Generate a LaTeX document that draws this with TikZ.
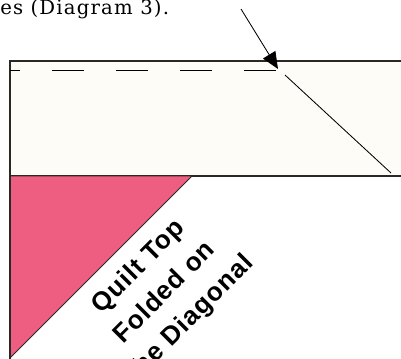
\documentclass[tikz,border=0pt]{standalone}
\usepackage{fontspec}
\setmainfont{DejaVu Serif}
\newfontfamily\labelfont{Liberation Sans}
\usepackage{tikz}
\usetikzlibrary{arrows.meta}
\definecolor{quiltpink}{RGB}{238, 94, 128}
\definecolor{quiltback}{RGB}{253, 252, 247}
\definecolor{seamline}{RGB}{45, 38, 38}

\begin{document}
\begin{tikzpicture}[
  x=0.025cm, y=-0.025cm,
  edge/.style={draw=seamline, line width=0.9pt},
  fold/.style={draw=black, line width=0.6pt},
  caption/.style={font=\fontsize{14}{16}\selectfont\addfontfeature{LetterSpace=6}, anchor=base west, inner sep=0pt},
  quilt/.style={font=\labelfont\bfseries\fontsize{18.5}{26}\selectfont\addfontfeature{LetterSpace=4}, align=center, rotate=45, inner sep=0pt},
]
  \useasboundingbox (0,0) rectangle (401,358);
  \clip (0,0) rectangle (401,358);

  % Caption running in from the left
  \node[caption] (cap) at (0,14) {es (Diagram 3).};

  % Folded strip
  \fill[quiltback] (10,61) rectangle (410,176);
  \draw[edge] (410,61) -- (10,61) -- (10,176) -- (410,176);

  % Pink corner
  \filldraw[fill=quiltpink, edge, line width=0.6pt] (10,176) -- (192,176) -- (10,358) -- cycle;
  \draw[edge, line width=1.2pt] (10,61) -- (10,362);

  % Stitch line and fold
  \coordinate (dashstart) at (10,70);
  \coordinate (tip) at (278,69);
  \draw[fold, dash pattern=on 0.8cm off 0.8cm, dash phase=0.55cm] (dashstart) -- (277,70);
  \coordinate (foldA) at (285,75);
  \coordinate (foldB) at (391,173);
  \draw[fold] (foldA) -- (foldB);

  % Pointer
  \coordinate (tail) at (241,9);
  \draw[fold, -{Triangle[length=0.42cm, width=0.36cm]}] (tail) -- (tip);

  % Label on the diagonal
  \node[quilt] (label) at (165,293) {Quilt Top\\Folded on\\the Diagonal};

\end{tikzpicture}
\end{document}
